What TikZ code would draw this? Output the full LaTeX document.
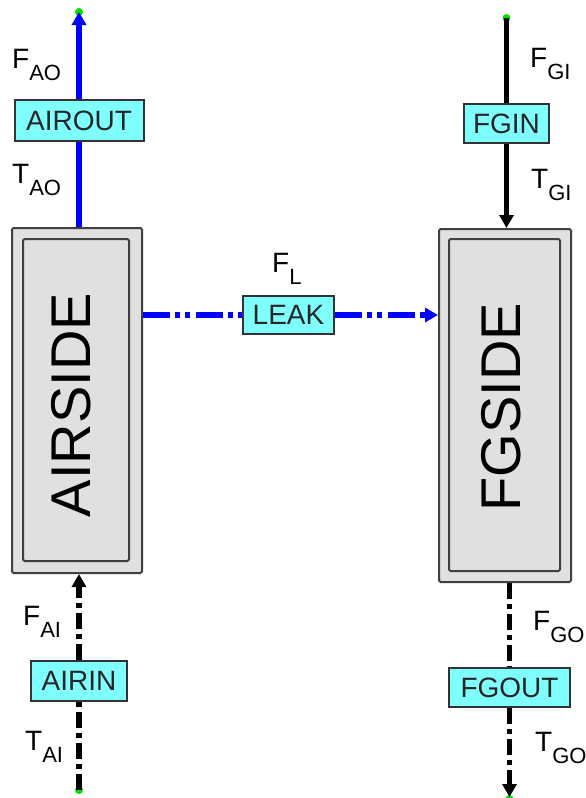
\documentclass[tikz,border=0pt]{standalone}
\usepackage{fontspec}
\setmainfont{Liberation Sans}
\usetikzlibrary{arrows.meta}
\definecolor{boxcyan}{HTML}{80FFFF}
\definecolor{boxgray}{HTML}{E0E0E0}
\definecolor{flowblue}{HTML}{0000FF}
\definecolor{dotgreen}{HTML}{00E000}
\newcommand\flowlab[2]{#1\raisebox{-12pt}{\fontsize{22}{22}\selectfont #2}}
\begin{document}
\begin{tikzpicture}[x=1pt,y=-1pt,
 unitbox/.style={draw=black!75, line width=2pt, fill=boxgray, rounded corners=1.5pt, inner sep=0pt},
 streambox/.style={draw=black!80, line width=2pt, fill=boxcyan, inner sep=0pt, font=\fontsize{28}{28}\selectfont, text=black!85},
 flowline/.style={line width=5.5pt},
 tip/.style={-{Triangle[length=13pt,width=14pt]}},
 dashdottwo/.style={dash pattern=on 27pt off 5pt on 5pt off 5pt on 5pt off 6pt},
 dashdotone/.style={dash pattern=on 16pt off 5pt on 5pt off 5pt},
 lab/.style={anchor=base west, inner sep=0pt, font=\fontsize{28}{28}\selectfont},
 enddot/.style={circle, fill=dotgreen, inner sep=0pt, minimum size=8pt},
 unitlab/.style={rotate=90, inner sep=0pt, font=\fontsize{56}{56}\selectfont}
]
\useasboundingbox (0,0) rectangle (586,798);

% unit boxes
\node[unitbox, minimum width=130pt, minimum height=345pt] (airside) at (77,400.5) {};
\node[unitbox, minimum width=106pt, minimum height=322pt] (airsideIn) at (76,400) {};
\node[unitlab] (airsideLab) at (71,405) {AIRSIDE};

\node[unitbox, minimum width=132pt, minimum height=353pt] (fgside) at (505,405.5) {};
\node[unitbox, minimum width=111pt, minimum height=332pt] (fgsideIn) at (504.5,405) {};
\node[unitlab] (fgsideLab) at (501,407) {FGSIDE};

% stream boxes
\node[streambox, minimum width=129pt, minimum height=41pt] (airout) at (79,120.5) {AIROUT};
\node[streambox, minimum width=85pt, minimum height=39pt] (fgin) at (506.5,123.5) {FGIN};
\node[streambox, minimum width=91pt, minimum height=38pt] (leak) at (288.5,315) {LEAK};
\node[streambox, minimum width=96pt, minimum height=40pt] (airin) at (79,681) {AIRIN};
\node[streambox, minimum width=121pt, minimum height=39pt] (fgout) at (509.5,687.5) {FGOUT};

% free ends
\coordinate (aoTop) at (79,12);
\coordinate (giTop) at (506.5,18);
\coordinate (aiBot) at (79,790);
\coordinate (goBot) at (509.5,797);

\node[enddot] (aoDot) at (aoTop) {};
\node[enddot] (giDot) at (giTop) {};
\node[enddot] (aiDot) at (aiBot) {};
\node[enddot] (goDot) at (509.5,799) {};

% connectors
\draw[flowline, flowblue] (airout.south |- airside.north) -- (airout.south);
\draw[flowline, flowblue, tip] (airout.north) -- (aoTop);

\draw[flowline] (giDot.center) -- (fgin.north);
\draw[flowline, tip] (fgin.south) -- (fgin.south |- fgside.north);

\draw[flowline, flowblue, dashdottwo] (airside.east |- leak) -- (leak.west);
\draw[flowline, flowblue, dashdottwo, tip] (leak.east) -- (leak -| fgside.west);

\draw[flowline, dashdotone] (aiDot.center) -- (airin.south);
\draw[flowline, dashdotone, tip] (airin.north) -- (airin.north |- airside.south);

\draw[flowline, dashdotone] (fgout.north |- fgside.south) -- (fgout.north);
\draw[flowline, dashdotone, tip] (fgout.south) -- (goBot);

% labels
\node[lab] (faoL) at (12,68) {\flowlab{F}{AO}};
\node[lab] (taoL) at (12,183) {\flowlab{T}{AO}};
\node[lab] (fgiL) at (530,67) {\flowlab{F}{GI}};
\node[lab] (tgiL) at (531,188) {\flowlab{T}{GI}};
\node[lab] (flL) at (272,272) {\flowlab{F}{L}};
\node[lab] (faiL) at (23,625) {\flowlab{F}{AI}};
\node[lab] (taiL) at (25,750) {\flowlab{T}{AI}};
\node[lab] (fgoL) at (533,630) {\flowlab{F}{GO}};
\node[lab] (tgoL) at (535,751) {\flowlab{T}{GO}};
\end{tikzpicture}
\end{document}
